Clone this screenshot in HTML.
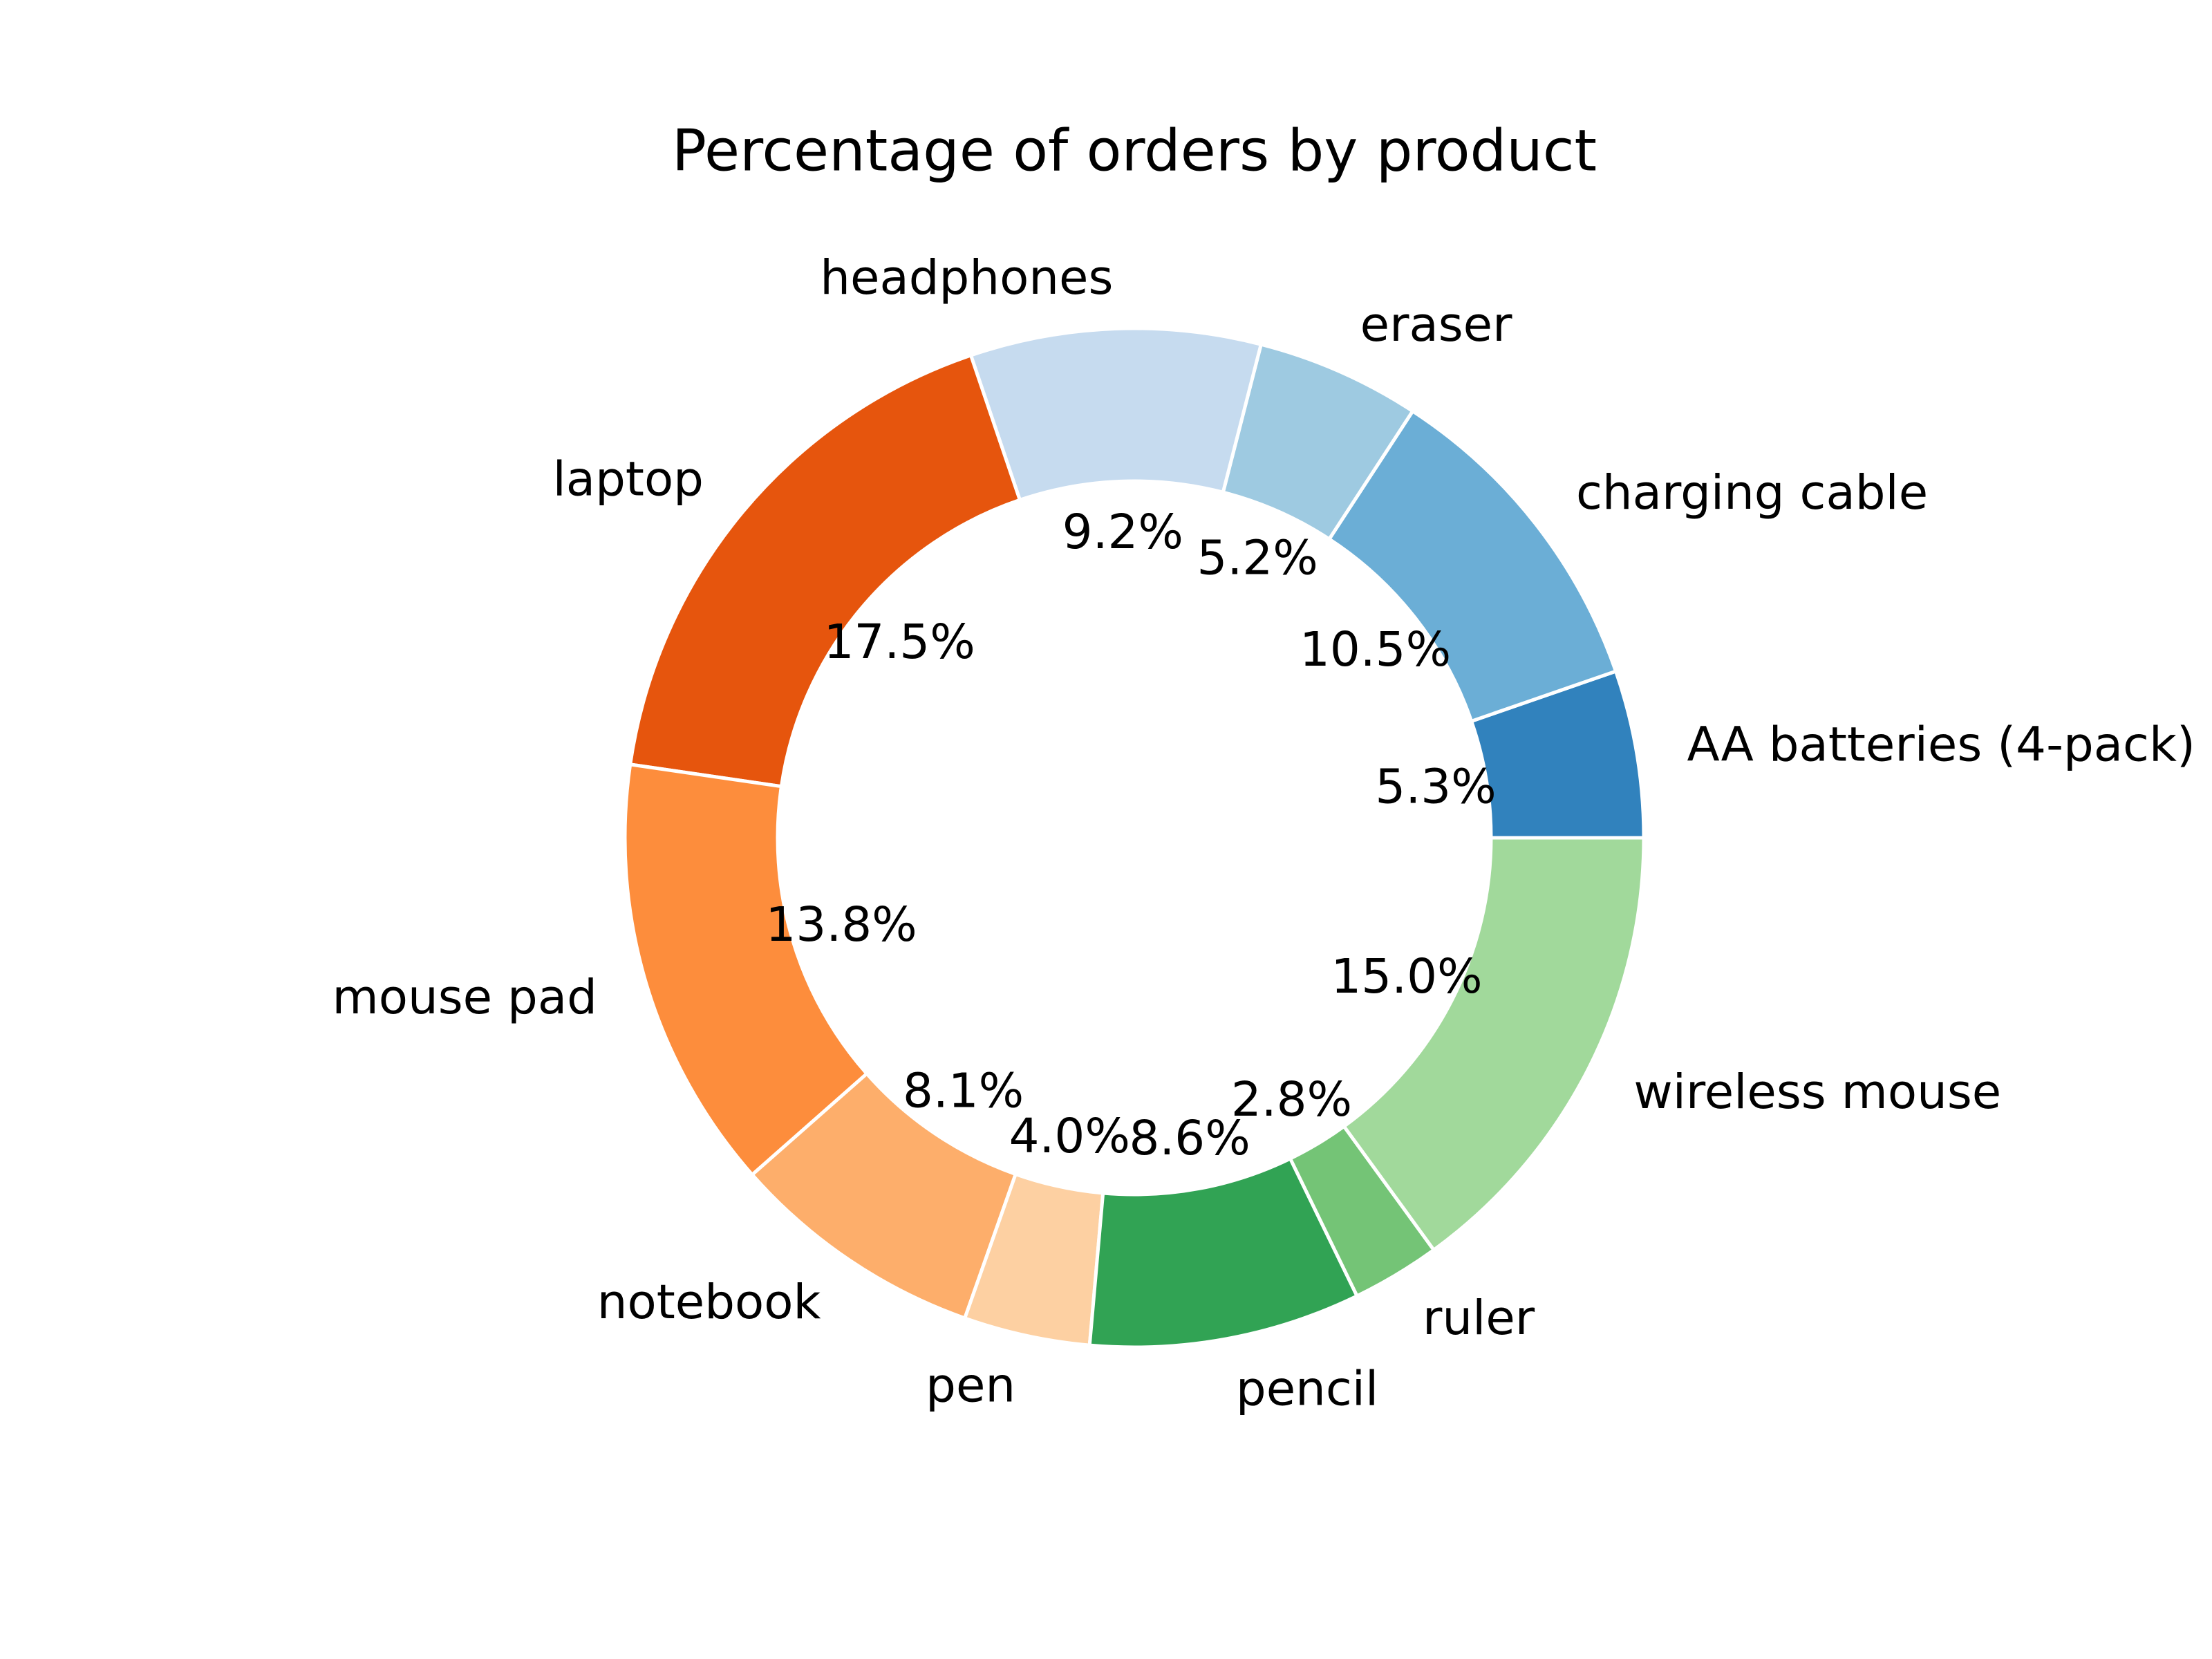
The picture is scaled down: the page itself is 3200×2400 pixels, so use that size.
<!DOCTYPE html>
<html><head><meta charset="utf-8"><style>
html,body{margin:0;padding:0;background:#fff;}
svg{display:block;font-family:"DejaVu Sans","Liberation Sans",sans-serif;}
</style></head><body>
<svg id="chart" width="3200" height="2400" viewBox="0 0 3200 2400">
<text x="1641" y="218" font-size="83" text-anchor="middle" dominant-baseline="central">Percentage of orders by product</text>
<g id="wedges"></g>
<g id="labels"></g>
</svg>
<script>
const categories = ["AA batteries (4-pack)","charging cable","eraser","headphones","laptop","mouse pad","notebook","pen","pencil","ruler","wireless mouse"];
const values = [5.3,10.5,5.2,9.2,17.5,13.8,8.1,4.0,8.6,2.8,15.0];
const colors = ["#3182bd","#6baed6","#9ecae1","#c6dbef","#e6550d","#fd8d3c","#fdae6b","#fdd0a2","#31a354","#74c476","#a1d99b"];
const NS="http://www.w3.org/2000/svg";
const cx=1641, cy=1212, R=737, r=516;
const total=values.reduce((a,b)=>a+b,0);
const wg=document.getElementById('wedges'), lg=document.getElementById('labels');
function pt(rad,a){return [cx+rad*Math.cos(a), cy-rad*Math.sin(a)];}
let start=0;
values.forEach((v,i)=>{
  const sweep=v/total*2*Math.PI, end=start+sweep, mid=start+sweep/2;
  const [x1,y1]=pt(R,start),[x2,y2]=pt(R,end),[x3,y3]=pt(r,end),[x4,y4]=pt(r,start);
  const large=sweep>Math.PI?1:0;
  const p=document.createElementNS(NS,'path');
  p.setAttribute('d',`M${x1},${y1} A${R},${R} 0 ${large} 0 ${x2},${y2} L${x3},${y3} A${r},${r} 0 ${large} 1 ${x4},${y4} Z`);
  p.setAttribute('fill',colors[i]);p.setAttribute('stroke','#fff');p.setAttribute('stroke-width','5');p.setAttribute('stroke-linejoin','round');
  
  
  wg.appendChild(p);
  const [lx,ly]=pt(1.1*R,mid);
  const t=document.createElementNS(NS,'text');
  t.setAttribute('x',lx);t.setAttribute('y',ly);t.setAttribute('font-size','69');
  t.setAttribute('text-anchor',Math.cos(mid)>0?'start':'end');t.setAttribute('dominant-baseline','central');
  t.textContent=categories[i];
  
  
  lg.appendChild(t);
  const [px,py]=pt(0.6*R,mid);
  const q=document.createElementNS(NS,'text');
  q.setAttribute('x',px);q.setAttribute('y',py);q.setAttribute('font-size','69');
  q.setAttribute('text-anchor','middle');q.setAttribute('dominant-baseline','central');
  q.textContent=(v/total*100).toFixed(1)+'%';
  
  
  lg.appendChild(q);
  start=end;
});
</script>
</body></html>
